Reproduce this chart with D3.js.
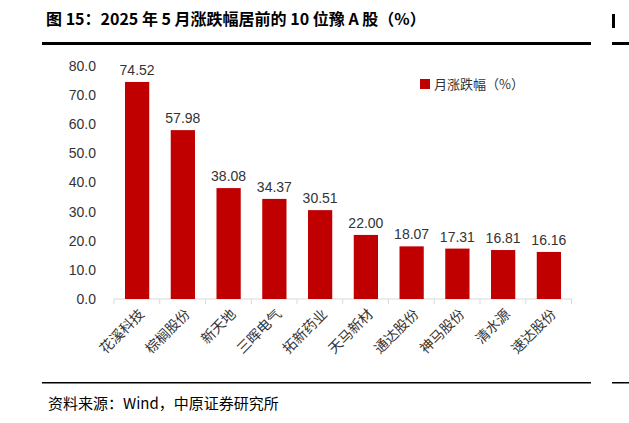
<!DOCTYPE html>
<html><head><meta charset="utf-8">
<script src="https://cdn.jsdelivr.net/npm/d3@7"></script>
<style>body{margin:0;background:#fff;font-family:"Noto Sans CJK SC","Noto Sans",sans-serif;}</style>
</head><body>
<svg id="chart" width="629" height="423"></svg>
<script>
const names = ['花溪科技', '棕榈股份', '新天地', '三晖电气', '拓新药业', '天马新材', '通达股份', '神马股份', '清水源', '速达股份'];
const values = [74.52, 57.98, 38.08, 34.37, 30.51, 22.00, 18.07, 17.31, 16.81, 16.16];
const yTicks = [0, 10, 20, 30, 40, 50, 60, 70, 80];

const svg = d3.select('#chart');
const red = '#c00000';

svg.append('text').attr('x', 46).attr('y', 25)
    .attr('font-size', 16).attr('font-weight', 'bold').attr('fill', '#000')
    .text('图 15：2025 年 5 月涨跌幅居前的 10 位豫 A 股（%）');
svg.append('rect').attr('x', 42).attr('y', 42).attr('width', 549).attr('height', 3).attr('fill', '#000');
svg.append('rect').attr('x', 612).attr('y', 42).attr('width', 17).attr('height', 3).attr('fill', '#000');
svg.append('rect').attr('x', 612).attr('y', 14).attr('width', 3).attr('height', 14).attr('fill', '#000');

const x = d3.scaleBand().domain(names).range([114, 572]).paddingInner(0.47).paddingOuter(0.24);
const y = d3.scaleLinear().domain([0, 80]).range([299, 66]);

const g = svg.append('g');
g.selectAll('text.yt').data(yTicks).enter().append('text')
    .attr('x', 96).attr('y', d => y(d)).attr('dy', '0.35em')
    .attr('text-anchor', 'end').attr('font-size', 14).attr('fill', '#333')
    .attr('font-family', 'Liberation Sans, Arial, sans-serif')
    .text(d => d.toFixed(1));

g.append('line').attr('x1', 114).attr('x2', 572).attr('y1', y(0)).attr('y2', y(0))
    .attr('stroke', '#d9d9d9');
g.selectAll('line.tk').data(d3.range(names.length + 1)).enter().append('line')
    .attr('x1', i => 114 + i * x.step())
    .attr('x2', i => 114 + i * x.step())
    .attr('y1', y(0)).attr('y2', y(0) + 5).attr('stroke', '#d9d9d9');

g.selectAll('rect.bar').data(values).enter().append('rect')
    .attr('x', (d, i) => x(names[i])).attr('width', x.bandwidth())
    .attr('y', d => y(d)).attr('height', d => y(0) - y(d)).attr('fill', red);

g.selectAll('text.val').data(values).enter().append('text')
    .attr('x', (d, i) => x(names[i]) + x.bandwidth() / 2).attr('y', d => y(d) - 7)
    .attr('text-anchor', 'middle').attr('font-size', 14).attr('fill', '#333')
    .attr('font-family', 'Liberation Sans, Arial, sans-serif')
    .text(d => d.toFixed(2));

g.selectAll('text.cat').data(names).enter().append('text')
    .attr('transform', d => `translate(${x(d) + x.bandwidth() / 2 + 8},${y(0) + 16}) rotate(-45)`)
    .attr('text-anchor', 'end').attr('font-size', 14).attr('fill', '#333')
    .text(d => d);

svg.append('rect').attr('x', 420).attr('y', 79).attr('width', 10).attr('height', 10).attr('fill', red);
svg.append('text').attr('x', 434).attr('y', 89).attr('font-size', 13).attr('fill', '#333')
    .text('月涨跌幅（%）');

svg.append('rect').attr('x', 42).attr('y', 382).attr('width', 549).attr('height', 1.5).attr('fill', '#000');
svg.append('rect').attr('x', 612).attr('y', 382).attr('width', 17).attr('height', 1.5).attr('fill', '#000');
svg.append('text').attr('x', 48).attr('y', 409).attr('font-size', 15).attr('fill', '#000')
    .text('资料来源：Wind，中原证券研究所');
</script>
</body></html>
